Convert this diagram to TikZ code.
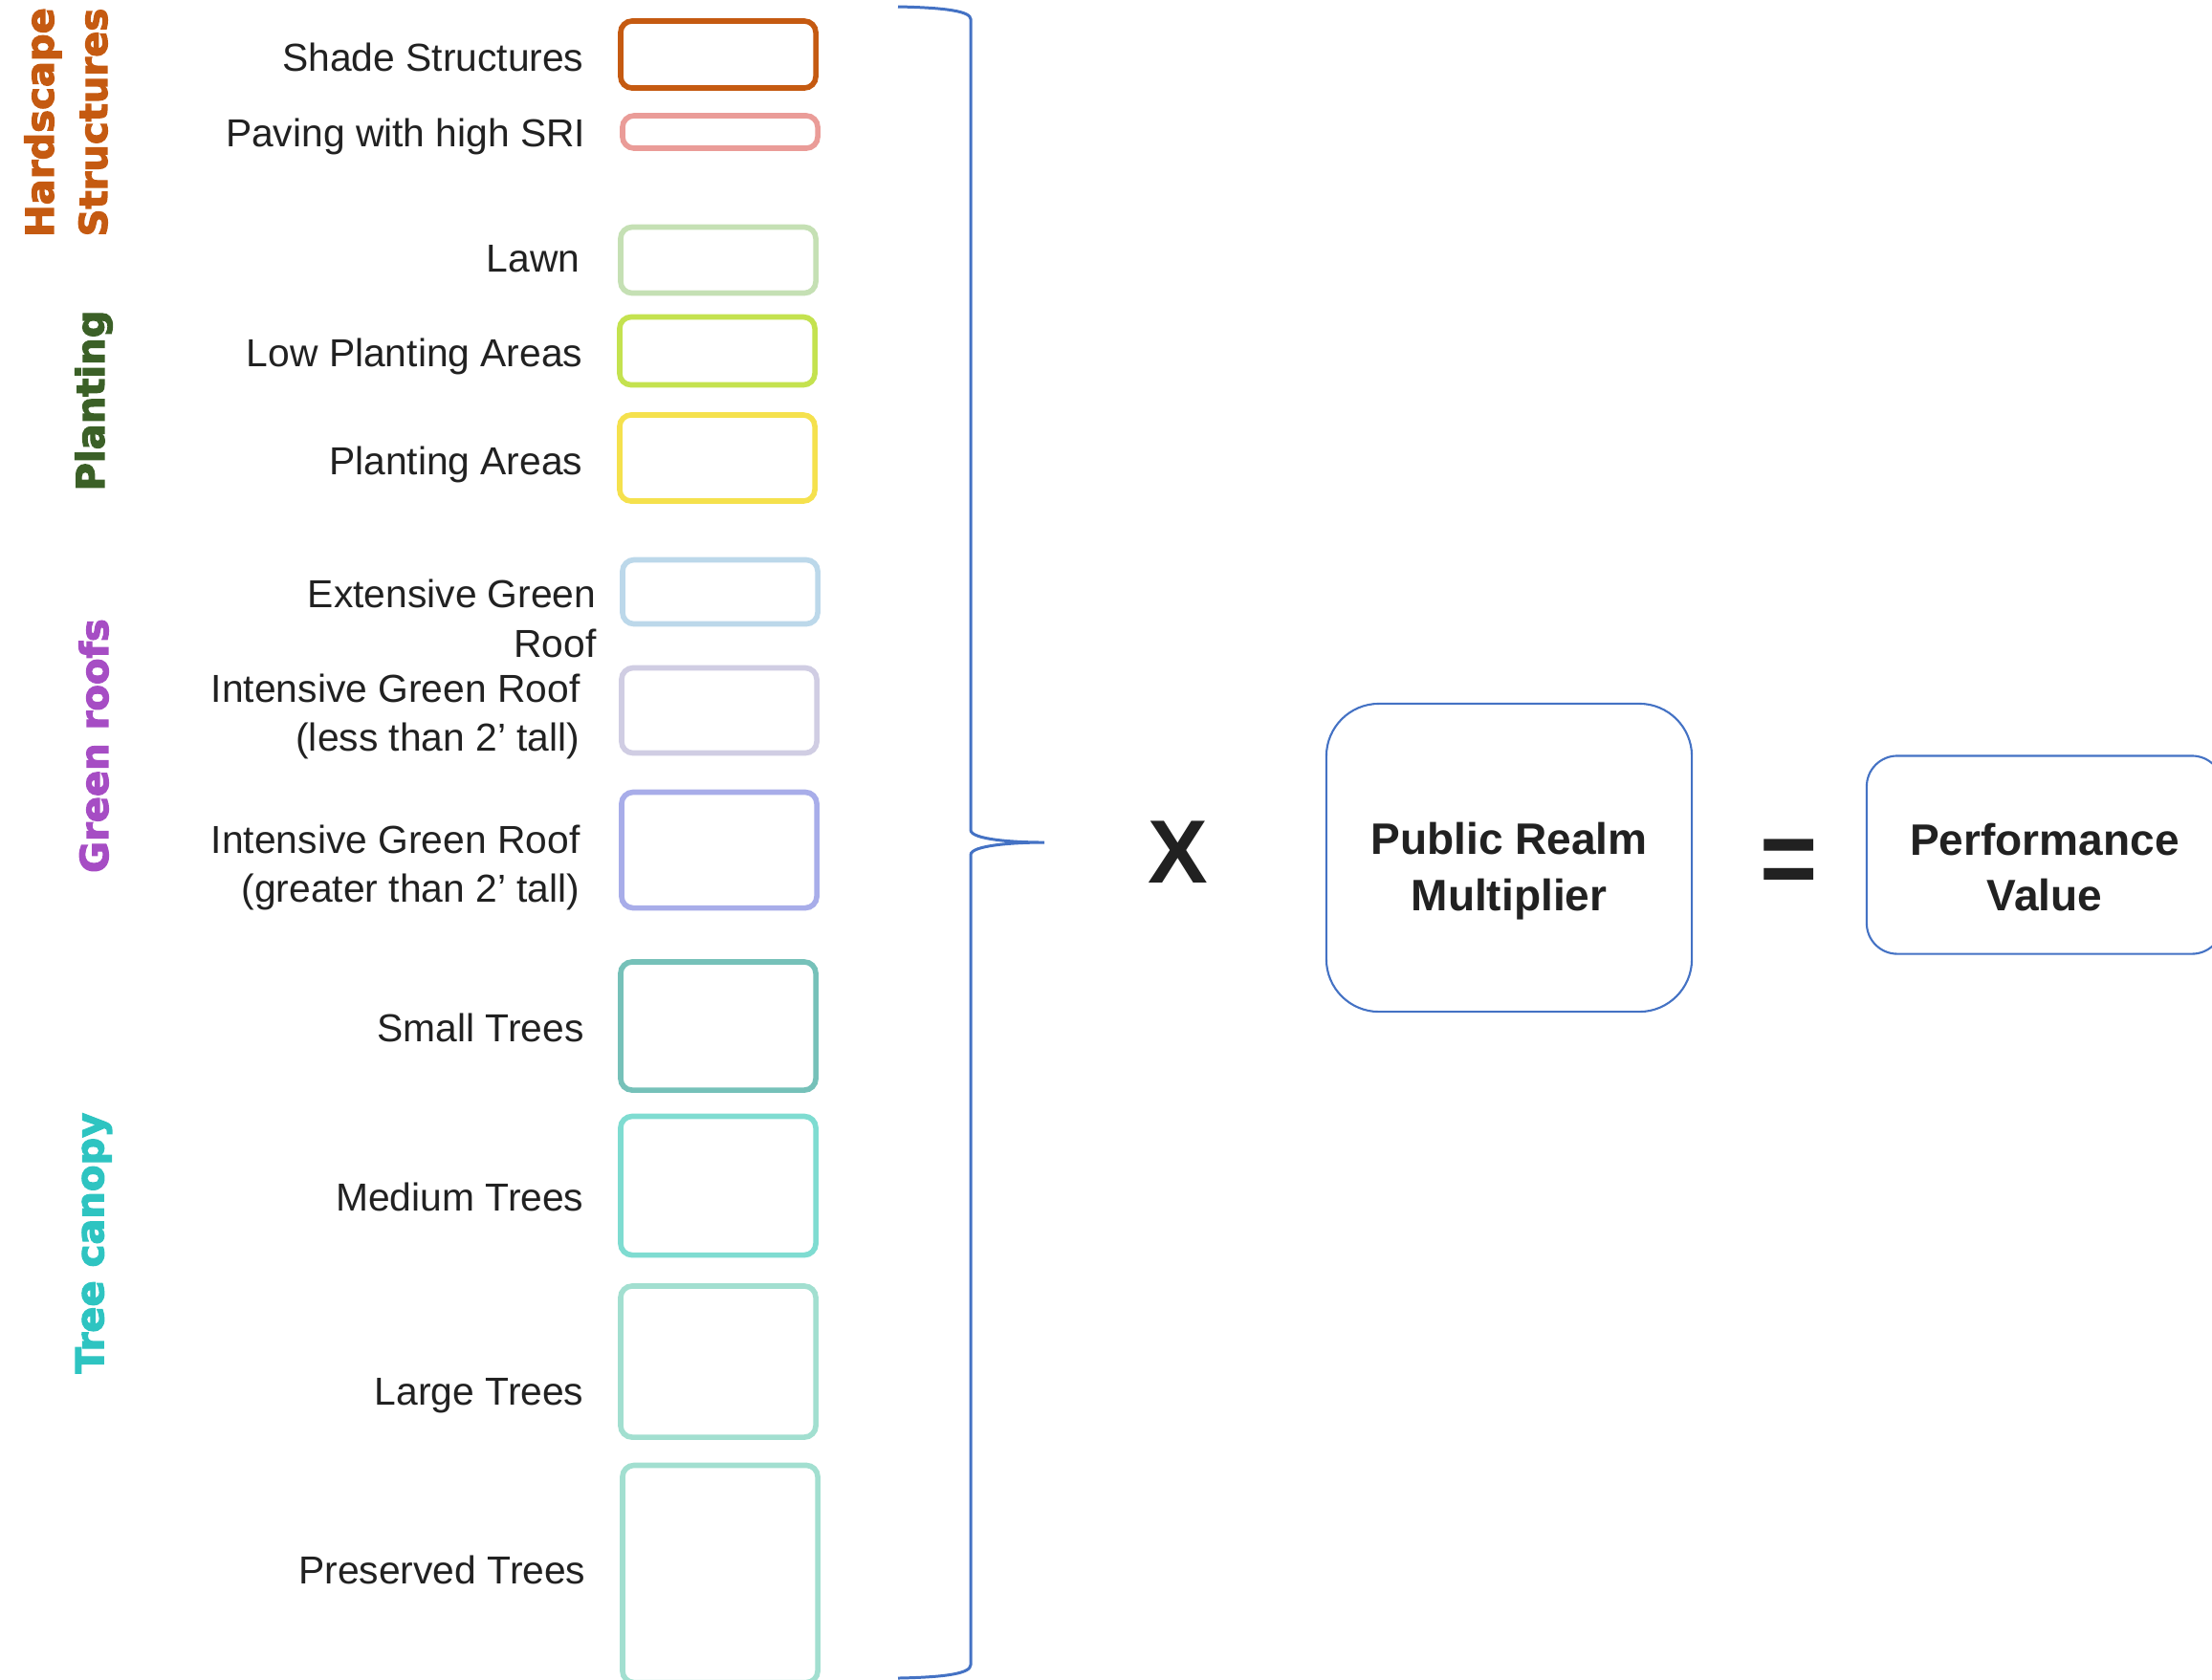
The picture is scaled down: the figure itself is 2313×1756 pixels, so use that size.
\documentclass[tikz,border=0pt]{standalone}
\usepackage{fontspec}
\setmainfont{Liberation Sans}
\newfontfamily\heavyfont{DejaVu Sans Bold}[FakeBold=3]
\usetikzlibrary{positioning}

\definecolor{ink}{HTML}{212121}
\definecolor{brace}{HTML}{4472C4}
\definecolor{hardC}{HTML}{C55A11}
\definecolor{pavingC}{HTML}{EA9C98}
\definecolor{lawnC}{HTML}{C5E0B4}
\definecolor{lowC}{HTML}{C4E24F}
\definecolor{plantC}{HTML}{F5E14D}
\definecolor{extC}{HTML}{BCD8EA}
\definecolor{intlessC}{HTML}{D0CDE3}
\definecolor{intgrC}{HTML}{A8ADE9}
\definecolor{smallC}{HTML}{76C1B9}
\definecolor{mediumC}{HTML}{7FDCD1}
\definecolor{largeC}{HTML}{A2DFD0}
\definecolor{plantTxt}{HTML}{3B6027}
\definecolor{roofTxt}{HTML}{A64DC4}
\definecolor{treeTxt}{HTML}{2EC4C1}

\begin{document}
\begin{tikzpicture}[x=0.01cm, y=-0.01cm, node distance=0.35cm,
    cell/.style={draw, rounded corners=0.12cm, line width=1.6pt, minimum width=2.04cm, inner sep=0pt},
    item/.style={text=ink, align=right, inner sep=0pt, font=\fontsize{11.6}{14.6}\selectfont},
    group/.style={rotate=90, align=center, inner sep=0pt, font=\heavyfont\fontsize{11.4}{15.9}\selectfont},
    result/.style={draw=brace, line width=0.6pt},
    resulttext/.style={align=center, text=ink, inner sep=0pt, font=\bfseries\fontsize{13.1}{16.7}\selectfont},
    op/.style={text=ink, inner sep=0pt, font=\bfseries\fontsize{26.7}{30}\selectfont}]
    \useasboundingbox (0,0) rectangle (2313,1756);

    % Boxes
    \node[cell, draw=hardC, minimum height=0.70cm] (shade) at (751,57) {};
    \node[cell, draw=pavingC, minimum height=0.34cm] (paving) at (753,138) {};
    \node[cell, draw=lawnC, minimum height=0.69cm] (lawn) at (751,272) {};
    \node[cell, draw=lowC, minimum height=0.71cm] (low) at (750,367) {};
    \node[cell, draw=plantC, minimum height=0.90cm] (plant) at (750,479) {};
    \node[cell, draw=extC, minimum height=0.67cm] (ext) at (753,619) {};
    \node[cell, draw=intlessC, minimum height=0.89cm] (intless) at (752,743) {};
    \node[cell, draw=intgrC, minimum height=1.21cm] (intgr) at (752,889) {};
    \node[cell, draw=smallC, minimum height=1.34cm] (small) at (751,1073) {};
    \node[cell, draw=mediumC, minimum height=1.45cm] (medium) at (751,1240) {};
    \node[cell, draw=largeC, minimum height=1.58cm] (large) at (751,1424) {};
    \node[cell, draw=largeC, minimum height=2.27cm] (preserved) at (753,1646) {};

    % Labels
    \node[item, left=of shade, yshift=-0.03cm] (shadetxt) {Shade Structures};
    \node[item, left=of paving, yshift=-0.045cm] (pavingtxt) {Paving with high SRI};
    \node[item, left=0.39cm of lawn, yshift=0.015cm] (lawntxt) {Lawn};
    \node[item, left=of low, yshift=-0.06cm] (lowtxt) {Low Planting Areas};
    \node[item, left=of plant, yshift=-0.07cm] (planttxt) {Planting Areas};
    \node[item, left=0.24cm of ext, yshift=-0.28cm] (exttxt) {Extensive Green\\Roof};
    \node[item, left=0.4cm of intless, yshift=-0.065cm] (intlesstxt) {Intensive Green Roof\\(less than 2’ tall)};
    \node[item, left=0.4cm of intgr, yshift=-0.185cm] (intgrtxt) {Intensive Green Roof\\(greater than 2’ tall)};
    \node[item, left=of small, yshift=-0.015cm] (smalltxt) {Small Trees};
    \node[item, left=of medium, yshift=-0.115cm] (mediumtxt) {Medium Trees};
    \node[item, left=of large, yshift=-0.36cm] (largetxt) {Large Trees};
    \node[item, left=of preserved, yshift=0.045cm] (preservedtxt) {Preserved Trees};

    % Groups
    \node[group, text=hardC] (hard) at (69,128) {Hardscape\\Structures};
    \node[group, text=plantTxt] (planting) at (98,419) {Planting};
    \node[group, text=roofTxt] (roofs) at (98,780) {Green roofs};
    \node[group, text=treeTxt] (trees) at (98,1300) {Tree canopy};

    % Brace
    \draw[brace, line width=0.85pt] (939,7) .. controls (990,8) and (1015,12) .. (1015,20)
        -- (1015,868) .. controls (1015,878) and (1060,881) .. (1092,881)
        .. controls (1060,881) and (1015,884) .. (1015,894)
        -- (1015,1741) .. controls (1015,1750) and (990,1754) .. (939,1755);

    % Equation
    \node[op] (times) at (1232,891) {X};
    \node[result, minimum width=3.82cm, minimum height=3.22cm, rounded corners=0.55cm] (mult) at (1578,897) {};
    \node[resulttext] (multtxt) at ([yshift=-0.14cm]mult.center) {Public Realm\\Multiplier};
    \node[op] (equals) at (1871,907) {\scalebox{1.1}[1.2]{=}};
    \node[result, minimum width=3.72cm, minimum height=2.07cm, rounded corners=0.32cm] (perf) at (2138,894) {};
    \node[resulttext] (perftxt) at ([yshift=-0.13cm]perf.center) {Performance\\Value};
\end{tikzpicture}
\end{document}
